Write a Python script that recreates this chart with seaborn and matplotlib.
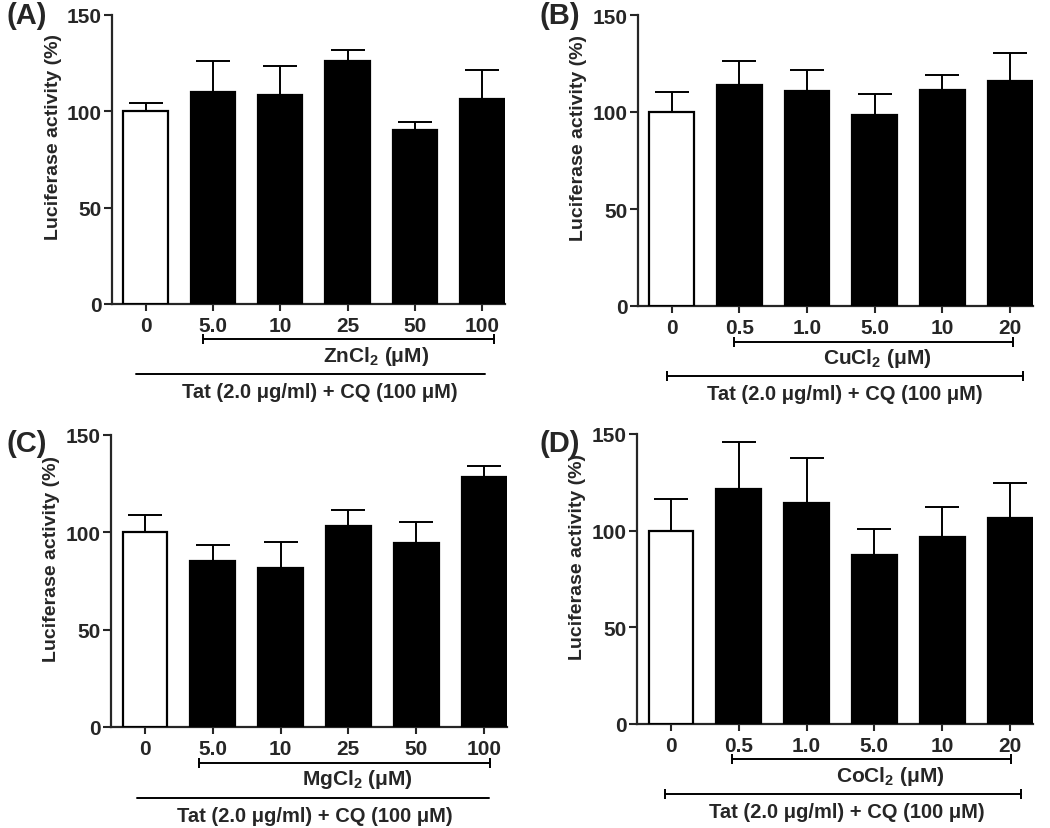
import matplotlib
matplotlib.use("Agg")
import pandas as pd
import matplotlib.pyplot as plt
import seaborn as sns

sns.set_style("ticks")
plt.rcParams["font.family"] = ["Liberation Sans", "DejaVu Sans"]
plt.rcParams["font.weight"] = "bold"
plt.rcParams["mathtext.fontset"] = "custom"
plt.rcParams["mathtext.rm"] = "Liberation Sans:bold"
plt.rcParams["mathtext.it"] = "Liberation Sans:bold"
plt.rcParams["mathtext.bf"] = "Liberation Sans:bold"


# the data

zn_doses = ["0", "5.0", "10", "25", "50", "100"]
zn_mean  = [100, 110.2, 108.3, 126.3, 90.5, 106.4]
zn_err   = [4.5, 16.1, 15.1, 5.5, 4.0, 15.1]

cu_doses = ["0", "0.5", "1.0", "5.0", "10", "20"]
cu_mean  = [100, 114.0, 110.7, 98.5, 111.4, 116.2]
cu_err   = [10.2, 12.1, 10.8, 10.8, 7.9, 14.4]

mg_doses = ["0", "5.0", "10", "25", "50", "100"]
mg_mean  = [100, 85.2, 81.8, 103.3, 94.6, 128.3]
mg_err   = [8.8, 8.4, 13.0, 8.2, 10.9, 5.6]

co_doses = ["0", "0.5", "1.0", "5.0", "10", "20"]
co_mean  = [100, 121.6, 114.5, 87.6, 96.7, 106.6]
co_err   = [16.2, 24.4, 23.1, 13.3, 15.4, 17.9]

colors = ["white", "black", "black", "black", "black", "black"]
tat_text = "Tat (2.0 μg/ml) + CQ (100 μM)"


def draw_panel(ax, doses, mean, err, salt, salt_span, salt_x, tat_span, tat_x, tat_caps):
    df = pd.DataFrame({"dose": doses, "value": mean})
    sns.barplot(data=df, x="dose", y="value", hue="dose", palette=colors,
                order=doses, hue_order=doses, legend=False, width=0.66,
                edgecolor="black", linewidth=1.6, ax=ax, zorder=3)
    # only the upper half of the error bar is visible
    ax.errorbar(range(len(doses)), mean, yerr=[[0] * len(err), err], fmt="none",
                ecolor="black", elinewidth=1.4, capsize=12, capthick=1.4, zorder=2)

    ax.set_ylim(0, 150)
    ax.set_xlim(-0.5, 5.34)
    ax.set_yticks([0, 50, 100, 150])
    ax.set_xlabel("")
    ax.set_ylabel("Luciferase activity (%)", fontsize=14, fontweight="bold")
    ax.yaxis.set_label_coords(-0.128, 0.58)
    ax.tick_params(axis="y", labelsize=15, width=1.5, length=6, pad=1.5)
    ax.tick_params(axis="x", labelsize=15, width=1.5, length=5, pad=3.5)
    for lbl in ax.get_xticklabels() + ax.get_yticklabels():
        lbl.set_fontweight("bold")
    sns.despine(ax=ax)
    ax.spines["left"].set_linewidth(1.6)
    ax.spines["bottom"].set_linewidth(1.6)

    trans = ax.get_xaxis_transform()
    # salt bracket with end caps
    ax.plot(salt_span, [-0.122, -0.122], color="black", lw=1.4, transform=trans,
            clip_on=False, marker="|", markersize=7, markeredgewidth=1.4)
    ax.text(salt_x, -0.178, salt, transform=trans, ha="center", va="center",
            fontsize=15, fontweight="bold")
    # Tat + CQ line
    ax.plot(tat_span, [-0.242, -0.242], color="black", lw=1.4, transform=trans,
            clip_on=False, marker="|" if tat_caps else None, markersize=7,
            markeredgewidth=1.4)
    ax.text(tat_x, -0.302, tat_text, transform=trans, ha="center", va="center",
            fontsize=14.5, fontweight="bold")


fig = plt.figure(figsize=(10.5, 8.29), dpi=100)

ax_a = fig.add_axes([112 / 1050, 1 - 305 / 829, 393 / 1050, 289 / 829])
ax_b = fig.add_axes([638 / 1050, 1 - 307 / 829, 395 / 1050, 291 / 829])
ax_c = fig.add_axes([111 / 1050, 1 - 728 / 829, 396 / 1050, 292 / 829])
ax_d = fig.add_axes([637 / 1050, 1 - 725 / 829, 396 / 1050, 290 / 829])

draw_panel(ax_a, zn_doses, zn_mean, zn_err, "ZnCl$_2$ (μM)",
           [0.85, 5.18], 3.43, [-0.15, 5.04], 2.59, False)
draw_panel(ax_b, cu_doses, cu_mean, cu_err, "CuCl$_2$ (μM)",
           [0.92, 5.04], 3.03, [-0.07, 5.19], 2.56, True)
draw_panel(ax_c, mg_doses, mg_mean, mg_err, "MgCl$_2$ (μM)",
           [0.80, 5.09], 3.14, [-0.12, 5.07], 2.5, False)
draw_panel(ax_d, co_doses, co_mean, co_err, "CoCl$_2$ (μM)",
           [0.90, 5.01], 3.23, [-0.09, 5.16], 2.6, True)

# panel letters
for x, y, letter in [(0.006, 0.997, "(A)"), (0.514, 0.997, "(B)"),
                     (0.006, 0.481, "(C)"), (0.514, 0.481, "(D)")]:
    fig.text(x, y, letter, ha="left", va="top", fontsize=21, fontweight="bold")

fig.savefig("out.png", dpi=100, facecolor="white")
